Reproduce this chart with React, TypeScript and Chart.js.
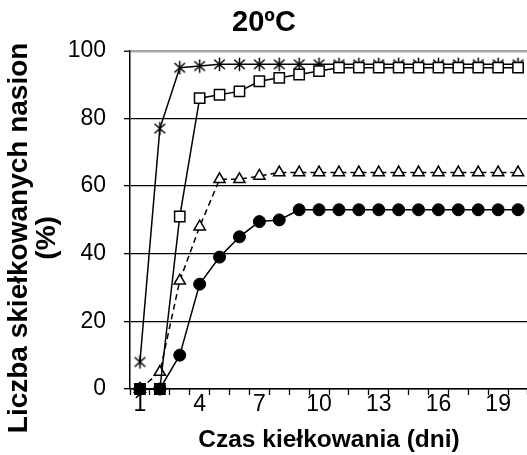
import { useEffect, useRef } from 'react';
import { Chart, registerables } from 'chart.js';

Chart.register(...registerables);

const FONT = 'Arial, "Liberation Sans", sans-serif';

// Germination day (x categories)
const days = ['1', '2', '3', '4', '5', '6', '7', '8', '9', '10', '11', '12', '13', '14', '15', '16', '17', '18', '19', '20'];
const xTickLabels = ['1', '4', '7', '10', '13', '16', '19'];

// Germinated seeds (%) per treatment
const seriesAsterisk = [8, 77, 95, 95.5, 96, 96, 96, 96, 96, 96, 96, 96, 96, 96, 96, 96, 96, 96, 96, 96];
const seriesSquare = [0, 0, 51, 86, 87, 88, 91, 92, 93, 94, 95, 95, 95, 95, 95, 95, 95, 95, 95, 95];
const seriesTriangle = [0, 5, 32, 48, 62, 62, 63, 64, 64, 64, 64, 64, 64, 64, 64, 64, 64, 64, 64, 64];
const seriesCircle = [0, 0, 10, 31, 39, 45, 49.5, 50, 53, 53, 53, 53, 53, 53, 53, 53, 53, 53, 53, 53];

const chartTitle = '20ºC';
const xTitle = 'Czas kiełkowania (dni)';
const yTitleLines = ['Liczba skiełkowanych nasion', '(%)'];

function makeAsterisk(): HTMLCanvasElement {
  const c = document.createElement('canvas');
  c.width = 15;
  c.height = 15;
  const g = c.getContext('2d')!;
  g.strokeStyle = '#000';
  g.lineWidth = 1.5;
  g.beginPath();
  g.moveTo(2.2, 2.8);
  g.lineTo(12.8, 12.2);
  g.moveTo(12.8, 2.8);
  g.lineTo(2.2, 12.2);
  g.moveTo(7.5, 0.8);
  g.lineTo(7.5, 14.2);
  g.stroke();
  return c;
}

const yTitlePlugin = {
  id: 'yTitleTwoLines',
  afterDraw(chart: any) {
    const { ctx, chartArea } = chart;
    const cy = (chartArea.top + chartArea.bottom) / 2 + 18;
    ctx.save();
    ctx.translate(0, cy);
    ctx.rotate(-Math.PI / 2);
    ctx.font = `bold 28px ${FONT}`;
    ctx.fillStyle = '#000';
    ctx.textAlign = 'center';
    ctx.textBaseline = 'middle';
    ctx.fillText(yTitleLines[0], 0, 19);
    ctx.fillText(yTitleLines[1], 0, 47);
    ctx.restore();
  },
};

export default function App() {
  const ref = useRef<HTMLCanvasElement | null>(null);

  useEffect(() => {
    if (!ref.current) return;
    const asterisk = makeAsterisk();
    const chart = new Chart(ref.current, {
      type: 'line',
      data: {
        labels: days,
        datasets: [
          {
            data: seriesCircle,
            borderColor: '#000',
            borderWidth: 1.5,
            pointStyle: 'circle',
            pointRadius: 6,
            pointBackgroundColor: '#000',
            pointBorderColor: '#000',
            pointBorderWidth: 1,
            tension: 0,
            clip: false,
          },
          {
            data: seriesSquare,
            borderColor: '#000',
            borderWidth: 1.5,
            pointStyle: 'rect',
            pointRadius: 7.3,
            pointBackgroundColor: seriesSquare.map((v) => (v === 0 ? '#000' : '#fff')),
            pointBorderColor: '#000',
            pointBorderWidth: 1.5,
            tension: 0,
            clip: false,
          },
          {
            data: seriesAsterisk,
            borderColor: '#000',
            borderWidth: 1.5,
            pointStyle: asterisk,
            pointRadius: 7,
            tension: 0,
            clip: false,
          },
          {
            data: seriesTriangle,
            borderColor: '#000',
            borderWidth: 1.5,
            borderDash: [6, 4],
            pointStyle: 'triangle',
            pointRadius: 6.5,
            pointBackgroundColor: '#fff',
            pointBorderColor: '#000',
            pointBorderWidth: 1.5,
            tension: 0,
            clip: false,
          },
        ],
      },
      options: {
        responsive: false,
        animation: false,
        devicePixelRatio: 1,
        layout: { padding: { left: 0, right: 15, top: 0, bottom: 0 } },
        plugins: {
          legend: { display: false },
          tooltip: { enabled: false },
          title: {
            display: true,
            text: chartTitle,
            color: '#000',
            font: { size: 29, weight: 'bold', family: FONT },
            padding: { top: 6, bottom: 10 },
          },
        },
        scales: {
          x: {
            type: 'category',
            offset: true,
            grid: {
              offset: true,
              drawOnChartArea: false,
              drawTicks: true,
              tickLength: 6,
              tickColor: '#000',
              tickWidth: 1.3,
            },
            border: { display: true, color: '#000', width: 1.5 },
            ticks: {
              autoSkip: false,
              maxRotation: 0,
              color: '#000',
              padding: -4,
              font: { size: 23, family: FONT },
              callback: (_v: any, i: number) => (xTickLabels.includes(days[i]) ? days[i] : ''),
            },
            title: {
              display: true,
              text: xTitle,
              color: '#000',
              font: { size: 24.5, weight: 'bold', family: FONT },
              padding: { top: 11, bottom: 0 },
            },
          },
          y: {
            min: 0,
            max: 100,
            ticks: {
              stepSize: 20,
              color: '#000',
              padding: 18,
              font: { size: 23, family: FONT },
            },
            grid: {
              color: (c: any) => (c.tick && c.tick.value === 100 ? '#a6a6a6' : '#000'),
              lineWidth: (c: any) => (c.tick && c.tick.value === 100 ? 2.5 : 1.3),
              tickColor: '#000',
              tickWidth: 1.3,
              tickLength: 6,
              drawTicks: true,
            },
            border: { display: true, color: '#000', width: 1.5 },
            afterFit: (s: any) => {
              s.width = 130;
            },
          },
        },
      },
      plugins: [yTitlePlugin],
    } as any);
    return () => chart.destroy();
  }, []);

  return (
    <div
      style={{
        position: 'fixed',
        left: 0,
        top: 0,
        width: 527,
        height: 455,
        overflow: 'hidden',
        background: '#fff',
      }}
    >
      <canvas ref={ref} width={543} height={455} style={{ display: 'block', width: 543, height: 455 }} />
    </div>
  );
}
